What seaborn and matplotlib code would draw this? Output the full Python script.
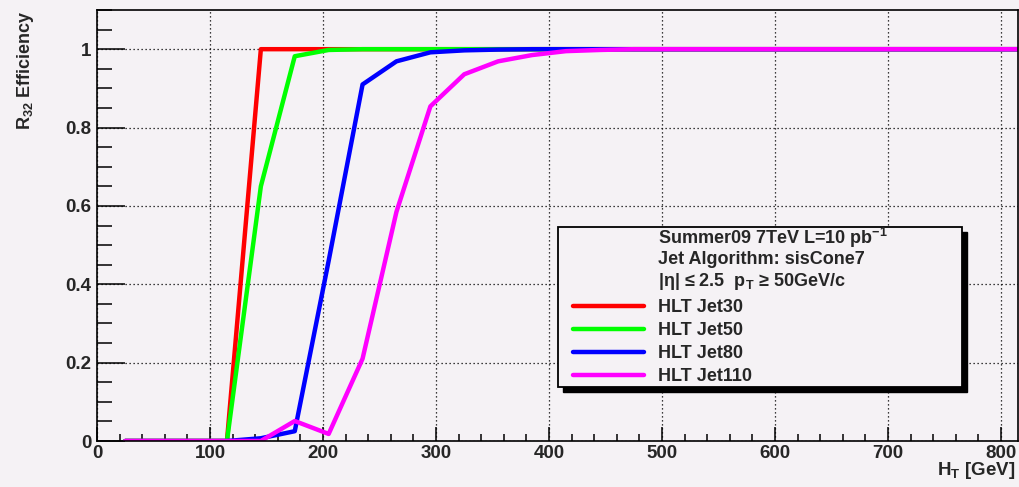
import matplotlib
matplotlib.use("Agg")
import matplotlib.pyplot as plt
import seaborn as sns
import pandas as pd
from matplotlib.lines import Line2D
from matplotlib.patches import Rectangle
from matplotlib.ticker import MultipleLocator

# ---- data ----
ht = [25, 55, 85, 115, 145, 175, 205, 235, 265, 295, 325, 355, 385, 415,
      445, 475, 505, 535, 565, 595, 625, 655, 685, 715, 745, 775, 805, 835]
jet30 = [0, 0, 0, 0, 1, 1, 1, 1, 1, 1, 1, 1, 1, 1,
         1, 1, 1, 1, 1, 1, 1, 1, 1, 1, 1, 1, 1, 1]
jet50 = [0, 0, 0, 0, 0.65, 0.982, 0.998, 1, 1, 1, 1, 1, 1, 1,
         1, 1, 1, 1, 1, 1, 1, 1, 1, 1, 1, 1, 1, 1]
jet80 = [0, 0, 0, 0, 0.007, 0.025, 0.46, 0.91, 0.969, 0.992, 0.997, 0.999, 1, 1,
         1, 1, 1, 1, 1, 1, 1, 1, 1, 1, 1, 1, 1, 1]
jet110 = [0, 0, 0, 0, 0.0, 0.051, 0.018, 0.21, 0.585, 0.854, 0.936, 0.969, 0.985, 0.995,
          0.998, 1, 1, 1, 1, 1, 1, 1, 1, 1, 1, 1, 1, 1]
series_names = ["HLT Jet30", "HLT Jet50", "HLT Jet80", "HLT Jet110"]
series_values = [jet30, jet50, jet80, jet110]
colors = ["#ff0000", "#00ff00", "#0000ff", "#ff00ff"]
header_lines = ["Summer09 7TeV L=10 pb$^{-1}$",
                "Jet Algorithm: sisCone7",
                "|η| ≤ 2.5  p$_{T}$ ≥ 50GeV/c"]

rows = []
for name, vals in zip(series_names, series_values):
    for x, y in zip(ht, vals):
        rows.append({"HT": x, "eff": y, "trigger": name})
df = pd.DataFrame(rows)

# ---- style ----
bg = "#f5f2f5"
sns.set_theme(style="ticks")
plt.rcParams["font.family"] = ["Liberation Sans", "DejaVu Sans"]
plt.rcParams["font.weight"] = "bold"
plt.rcParams["mathtext.fontset"] = "custom"
plt.rcParams["mathtext.rm"] = "Liberation Sans:bold"
plt.rcParams["mathtext.it"] = "Liberation Sans:bold"
plt.rcParams["mathtext.bf"] = "Liberation Sans:bold"
plt.rcParams["mathtext.default"] = "rm"

fig = plt.figure(figsize=(10.19, 4.87), dpi=100, facecolor=bg)
ax = fig.add_axes([97 / 1019, 46 / 487, 921 / 1019, 431 / 487])
ax.set_facecolor(bg)

sns.lineplot(data=df, x="HT", y="eff", hue="trigger", hue_order=series_names,
             palette=colors, linewidth=3.2, legend=False, ax=ax, sort=False)

ax.set_xlim(0, 815)
ax.set_ylim(0, 1.1)
ax.xaxis.set_major_locator(MultipleLocator(100))
ax.xaxis.set_minor_locator(MultipleLocator(20))
ax.yaxis.set_major_locator(MultipleLocator(0.2))
ax.yaxis.set_minor_locator(MultipleLocator(0.05))
ax.set_yticks([0, 0.2, 0.4, 0.6, 0.8, 1.0])
ax.set_yticklabels(["0", "0.2", "0.4", "0.6", "0.8", "1"])
ax.grid(True, which="major", color="black", linestyle=(0, (1, 2.2)), linewidth=0.9)

ax.tick_params(axis="both", which="both", direction="in", top=False, right=False,
               labelsize=13.5, color="black", width=1.1)
ax.tick_params(axis="y", which="major", length=20, pad=4)
ax.tick_params(axis="y", which="minor", length=11)
ax.tick_params(axis="x", which="major", length=10, pad=3)
ax.tick_params(axis="x", which="minor", length=5)
for lab in ax.get_xticklabels() + ax.get_yticklabels():
    lab.set_fontweight("bold")
for s in ax.spines.values():
    s.set_color("black")
    s.set_linewidth(1.2)

ax.set_xlabel("H$_{T}$ [GeV]", fontsize=13.5, fontweight="bold", loc="right")
ax.xaxis.set_label_coords(0.997, -0.045)
ax.set_ylabel("R$_{32}$ Efficiency", fontsize=13, fontweight="bold", loc="top")
ax.yaxis.set_label_coords(-0.066, 1.0)

# ---- legend box with shadow ----
W, H = 921, 431
bx0 = (558 - 97) / W
bx1 = (962 - 97) / W
by1 = (441 - 227) / H
by0 = (441 - 387) / H
dx = 5 / W
dy = 5 / H
ax.add_patch(Rectangle((bx0 + dx, by0 - dy), bx1 - bx0, by1 - by0, transform=ax.transAxes,
                       facecolor="black", edgecolor="black", zorder=5, clip_on=False))
ax.add_patch(Rectangle((bx0, by0), bx1 - bx0, by1 - by0, transform=ax.transAxes,
                       facecolor=bg, edgecolor="black", linewidth=1.3, zorder=6, clip_on=False))

header_y_px = [238, 260, 281]
for txt, ypx in zip(header_lines, header_y_px):
    ax.text((658 - 97) / W, (441 - ypx) / H, txt, transform=ax.transAxes,
            ha="left", va="center", fontsize=13, fontweight="bold", zorder=8)

handles = [Line2D([], [], color=c, linewidth=3.2) for c in colors]
leg = ax.legend(handles, series_names, loc="upper left",
                bbox_to_anchor=((573 - 97) / W, (441 - 299) / H),
                frameon=False, borderpad=0, borderaxespad=0,
                handlelength=3.93, handletextpad=0.78, labelspacing=0.34,
                prop={"weight": "bold", "size": 13})
leg.set_zorder(7)

fig.savefig("out.png", dpi=100, facecolor=bg)
